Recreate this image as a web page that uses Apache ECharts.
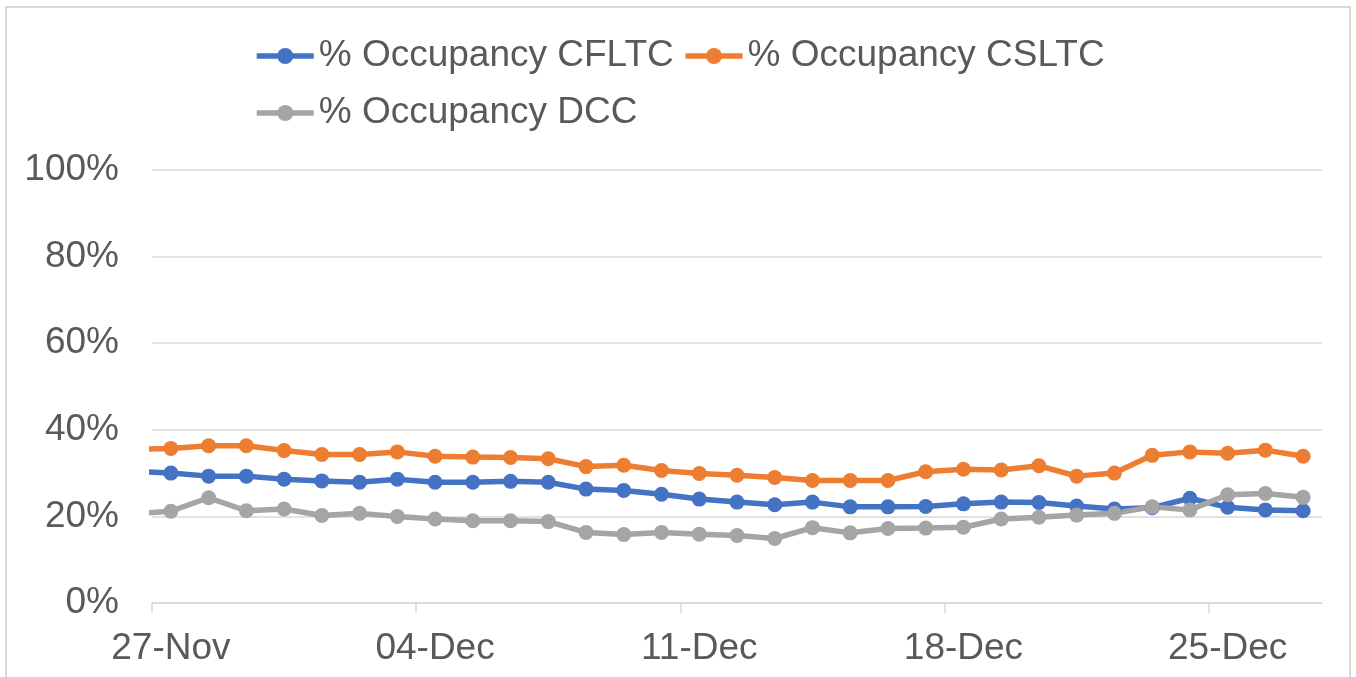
<!DOCTYPE html>
<html>
<head>
<meta charset="utf-8">
<script src="https://cdn.jsdelivr.net/npm/echarts@6/dist/echarts.min.js"></script>
<style>
  html, body { margin: 0; padding: 0; background: #fff; }
  #chart { width: 1356px; height: 677px; }
</style>
</head>
<body>
<div id="chart"></div>
<script>
// one point per day; 26-Nov sits just left of the axis start and gets clipped
const days = ['26-Nov', '27-Nov', '28-Nov', '29-Nov', '30-Nov',
    '01-Dec', '02-Dec', '03-Dec', '04-Dec', '05-Dec', '06-Dec', '07-Dec', '08-Dec',
    '09-Dec', '10-Dec', '11-Dec', '12-Dec', '13-Dec', '14-Dec', '15-Dec', '16-Dec',
    '17-Dec', '18-Dec', '19-Dec', '20-Dec', '21-Dec', '22-Dec', '23-Dec', '24-Dec',
    '25-Dec', '26-Dec', '27-Dec'];
const tickLabels = ['27-Nov', '04-Dec', '11-Dec', '18-Dec', '25-Dec'];
const yTicks = [0, 20, 40, 60, 80, 100];

const cfltc = [30.4, 30.0, 29.3, 29.3, 28.6, 28.2, 27.9, 28.6, 27.9, 27.9, 28.1, 27.9,
    26.3, 26.0, 25.1, 24.0, 23.3, 22.7, 23.3, 22.2, 22.2, 22.3, 22.9, 23.3,
    23.2, 22.4, 21.7, 22.0, 24.2, 22.1, 21.5, 21.3];
const csltc = [35.5, 35.7, 36.3, 36.3, 35.2, 34.3, 34.3, 34.9, 33.9, 33.7, 33.6, 33.3,
    31.5, 31.8, 30.6, 29.9, 29.5, 29.0, 28.3, 28.3, 28.3, 30.3, 30.9, 30.7,
    31.7, 29.3, 30.0, 34.1, 34.9, 34.6, 35.3, 33.9];
const dcc = [20.6, 21.2, 24.3, 21.3, 21.7, 20.2, 20.7, 20.0, 19.4, 19.0, 19.0, 18.8,
    16.3, 15.8, 16.3, 15.9, 15.6, 14.9, 17.4, 16.2, 17.2, 17.3, 17.5, 19.4,
    19.8, 20.3, 20.7, 22.2, 21.5, 25.0, 25.3, 24.4];

const seriesNames = ['% Occupancy CFLTC', '% Occupancy CSLTC', '% Occupancy DCC'];
const colors = ['#4472C4', '#ED7D31', '#A5A5A5'];

const font = "'Liberation Sans', Arial, sans-serif";
const textColor = '#595959';
const gridColor = '#D9D9D9';

// day i is centred at i - 0.5, so the 27-Nov day runs from 0 to 1
const dayPos = (i) => i - 0.5;
const toPairs = (arr) => arr.map((v, i) => [dayPos(i), v]);
const labelPos = tickLabels.map((d) => dayPos(days.indexOf(d)));
const tickPos = labelPos.map((p) => p - 0.5);

const makeSeries = (name, data, color) => ({
    name: name,
    type: 'line',
    data: toPairs(data),
    clip: true,
    symbol: 'circle',
    symbolSize: 15,
    showSymbol: true,
    color: color,
    lineStyle: { width: 5.5, color: color },
    itemStyle: { color: color },
    emphasis: { disabled: true },
});

const chart = echarts.init(document.getElementById('chart'));
chart.setOption({
    animation: false,
    graphic: [{
        type: 'rect',
        shape: { x: 6, y: 7, width: 1344, height: 700 },
        style: { fill: 'none', stroke: gridColor, lineWidth: 2 },
        silent: true,
    }],
    legend: {
        left: 249,
        top: 27,
        width: 900,
        itemWidth: 57,
        itemHeight: 20,
        itemGap: 9,
        lineStyle: { width: 5.5 },
        textStyle: {
            fontSize: 37,
            lineHeight: 48,
            color: textColor,
            fontFamily: font,
        },
        data: seriesNames,
    },
    grid: {
        left: 152,
        right: 34,
        top: 170,
        bottom: 74,
    },
    xAxis: {
        type: 'value',
        min: 0,
        max: days.length - 1,
        axisLine: { show: true, lineStyle: { color: gridColor, width: 1.5 } },
        axisTick: {
            show: true,
            length: 10,
            customValues: tickPos,
            lineStyle: { color: gridColor, width: 1.5 },
        },
        splitLine: { show: false },
        axisLabel: {
            customValues: labelPos,
            formatter: (v) => days[Math.round(v + 0.5)],
            fontSize: 37,
            color: textColor,
            fontFamily: font,
            margin: 27,
        },
    },
    yAxis: {
        type: 'value',
        min: yTicks[0],
        max: yTicks[yTicks.length - 1],
        interval: 20,
        axisLine: { show: false },
        axisTick: { show: false },
        splitLine: { lineStyle: { color: gridColor, width: 1.5 } },
        axisLabel: {
            formatter: '{value}%',
            fontSize: 37,
            color: textColor,
            fontFamily: font,
            margin: 33,
        },
    },
    series: [
        makeSeries(seriesNames[0], cfltc, colors[0]),
        makeSeries(seriesNames[1], csltc, colors[1]),
        makeSeries(seriesNames[2], dcc, colors[2]),
    ],
});
</script>
</body>
</html>
